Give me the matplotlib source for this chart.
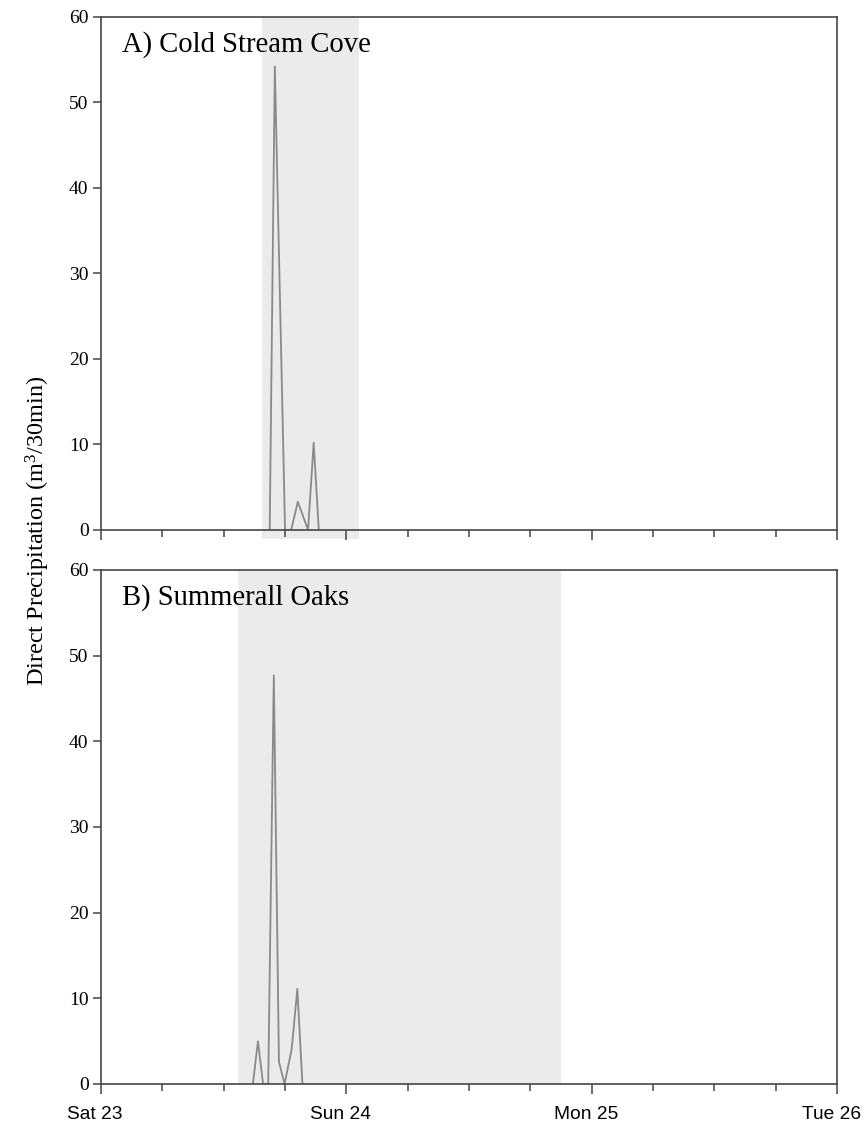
import matplotlib
matplotlib.use("Agg")
import matplotlib.pyplot as plt
import matplotlib.transforms as mtransforms
from matplotlib.patches import Rectangle
from matplotlib.ticker import MultipleLocator

# hours counted from Sat 23 00:00
cold_hours = [16.5, 17.0, 18.0, 18.6, 19.25, 20.25, 20.8, 21.3]
cold_vals = [0, 54.2, 0, 0, 3.3, 0, 10.2, 0]
cold_event = (15.75, 25.2)

oaks_hours = [14.85, 15.35, 15.85, 16.35, 16.9, 17.4, 17.95, 18.65, 19.2, 19.7]
oaks_vals = [0, 5.0, 0, 0, 47.7, 2.6, 0, 4.1, 11.1, 0]
oaks_event = (13.4, 45.0)

day_ticks = [0, 24, 48, 72]
day_labels = ["Sat 23", "Sun 24", "Mon 25", "Tue 26"]
panel_titles = ["A) Cold Stream Cove", "B) Summerall Oaks"]

serif = "Liberation Serif"
sans = "Liberation Sans"
spine_col = "#454545"

plt.rcParams["mathtext.fontset"] = "custom"
plt.rcParams["mathtext.rm"] = serif
plt.rcParams["mathtext.it"] = serif + ":italic"

fig = plt.figure(figsize=(8.65, 11.24), dpi=100)
ax1 = fig.add_axes([0.1168, 0.5285, 0.851, 0.4564])
ax2 = fig.add_axes([0.1168, 0.0356, 0.851, 0.4573])

panels = [
    (ax1, cold_hours, cold_vals, cold_event, -0.018),
    (ax2, oaks_hours, oaks_vals, oaks_event, 0.0),
]

for i, (ax, hrs, vals, event, shade_bottom) in enumerate(panels):
    # shaded storm period
    shade = Rectangle((event[0], shade_bottom), event[1] - event[0], 1 - shade_bottom,
                      transform=ax.get_xaxis_transform(), facecolor="#ebebeb",
                      edgecolor="none", zorder=0, clip_on=False)
    ax.add_patch(shade)
    ax.plot(hrs, vals, color="#8a8a8a", lw=1.3, zorder=2)

    ax.set_xlim(0, 72)
    ax.set_ylim(0, 60)
    ax.xaxis.set_major_locator(MultipleLocator(24))
    ax.xaxis.set_minor_locator(MultipleLocator(6))
    ax.yaxis.set_major_locator(MultipleLocator(10))
    ax.tick_params(axis="x", which="major", direction="out", length=7, width=1.1, color=spine_col)
    ax.tick_params(axis="x", which="minor", direction="out", length=5, width=1.1, color=spine_col)
    ax.tick_params(axis="y", direction="out", length=6, width=1.1, color=spine_col,
                   labelsize=14, pad=3)
    for lab in ax.get_yticklabels():
        lab.set_fontfamily(serif)
    for s in ax.spines.values():
        s.set_color(spine_col)
        s.set_linewidth(1.2)

    ax.text(0.0285, 0.932, panel_titles[i], transform=ax.transAxes,
            fontsize=20.6, fontfamily=serif, va="baseline", ha="left")

ax1.set_xticks(day_ticks)
ax1.set_xticklabels([])
ax2.set_xticks(day_ticks)
ax2.set_xticklabels(day_labels, fontsize=13.8, fontfamily=sans)
ax2.tick_params(axis="x", which="major", pad=9)

# day labels sit a little left of their ticks
shift = mtransforms.ScaledTranslation(-6 / 100, 0, fig.dpi_scale_trans)
for lab in ax2.get_xticklabels():
    lab.set_transform(lab.get_transform() + shift)

fig.text(0.044, 0.5276, "Direct Precipitation (m$^3$/30min)", rotation=90,
         fontsize=17.5, fontfamily=serif, ha="center", va="center")

fig.savefig("out.png", dpi=100)
